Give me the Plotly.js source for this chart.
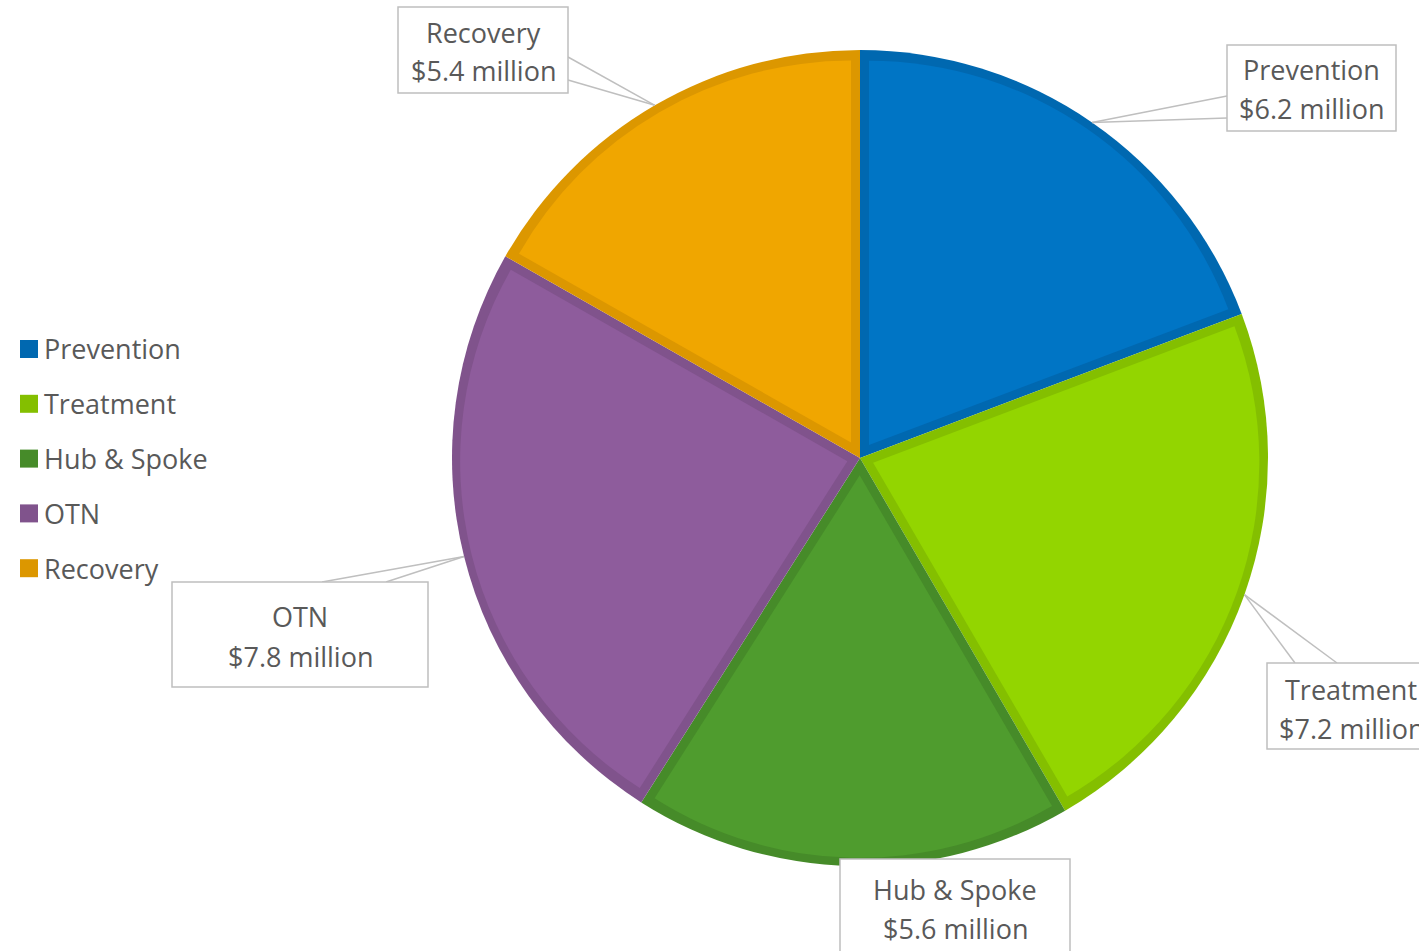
<!DOCTYPE html>
<html>
<head>
<meta charset="utf-8">
<script src="https://cdn.plot.ly/plotly-3.0.1.min.js"></script>
<style>html,body{margin:0;padding:0;background:#fff;}#chart{width:1419px;height:951px;}</style>
</head>
<body>
<div id="chart"></div>
<script>
// ---- data ----
const categories = ['Prevention', 'Treatment', 'Hub & Spoke', 'OTN', 'Recovery'];
const amounts = [6.2, 7.2, 5.6, 7.8, 5.4]; // $ million
const unitSuffix = ' million';

// ---- styles ----
const fillColors = ['#0075C5', '#93D500', '#4F9C2E', '#8E5C9C', '#F0A600'];
const lineColors = ['#0068B0', '#84BF00', '#468B29', '#80538C', '#DC9700'];
const textColor = '#595959';
const fontFamily = '"Open Sans", "Noto Sans", sans-serif';
const fontSize = 27;
const W = 1419, H = 951;
const cx = 860, cy = 458, Rout = 408, bw = 9;

// label box layout (pixels): [left, top, right, bottom], text centre x, line1 y, line2 y, leader attach points
const boxes = [
  {r: [1227, 45, 1396, 131], tx: 1311, y1: 70, y2: 109, a: [[1227, 96], [1227, 118]]},
  {r: [1267, 663, 1436, 749], tx: 1351, y1: 689, y2: 728, a: [[1295, 663], [1337, 663]]},
  {r: [840, 859, 1070, 960], tx: 955, y1: 889, y2: 928, a: []},
  {r: [172, 582, 428, 687], tx: 300, y1: 616, y2: 656, a: [[322, 582], [386, 582]]},
  {r: [398, 7, 568, 93], tx: 483, y1: 32, y2: 71, a: [[568, 57], [568, 80]]}
];
const legendLeft = 20, legendTop = 349, legendStep = 54.8, legendSq = 18;

const px = x => x / W;
const py = y => 1 - y / H;
const domainFor = (x, y, r) => ({x: [px(x - r), px(x + r)], y: [py(y + r), py(y - r)]});

const total = amounts.reduce((s, v) => s + v, 0);
const shapes = [];
const annotations = [];
const traces = [];

// base pie: border colour over the full slice
traces.push({
  type: 'pie', labels: categories, values: amounts, sort: false, direction: 'clockwise', rotation: 0,
  textinfo: 'none', hoverinfo: 'label+value', showlegend: false,
  marker: {colors: lineColors, line: {width: 0}},
  domain: domainFor(cx, cy, Rout)
});

let cum = 0;
amounts.forEach((v, i) => {
  const half = v / total * Math.PI;          // half-angle of slice
  const mid = (cum + v / 2) / total * 2 * Math.PI;
  cum += v;
  // inset fill: same slice, apex moved inward-offset so edges keep a border of bw
  const d = bw / Math.sin(half);
  const r = (Rout - bw) - bw / half;
  const icx = cx + d * Math.sin(mid), icy = cy - d * Math.cos(mid);
  traces.push({
    type: 'pie', labels: categories, values: amounts, sort: false, direction: 'clockwise', rotation: 0,
    textinfo: 'none', hoverinfo: 'skip', showlegend: false,
    marker: {colors: fillColors.map((c, j) => j === i ? c : 'rgba(0,0,0,0)'), line: {width: 0}},
    domain: domainFor(icx, icy, r)
  });

  const ex = cx + Rout * Math.sin(mid), ey = cy - Rout * Math.cos(mid);
  const b = boxes[i];
  b.a.forEach(p => {
    shapes.push({type: 'line', xref: 'paper', yref: 'paper', x0: px(ex), y0: py(ey), x1: px(p[0]), y1: py(p[1]),
      line: {color: '#BFBFBF', width: 1.5}});
  });
  shapes.push({type: 'rect', xref: 'paper', yref: 'paper', x0: px(b.r[0]), y0: py(b.r[1]), x1: px(b.r[2]), y1: py(b.r[3]),
    fillcolor: '#FFFFFF', line: {color: '#BFBFBF', width: 1.5}});
  annotations.push({xref: 'paper', yref: 'paper', x: px(b.tx), y: py(b.y1), xanchor: 'center', yanchor: 'middle',
    text: categories[i], showarrow: false, font: {family: fontFamily, size: fontSize, color: textColor}});
  annotations.push({xref: 'paper', yref: 'paper', x: px(b.tx), y: py(b.y2), xanchor: 'center', yanchor: 'middle',
    text: '$' + v.toFixed(1) + unitSuffix, showarrow: false, font: {family: fontFamily, size: fontSize, color: textColor}});
  // legend
  const ly = legendTop + i * legendStep;
  shapes.push({type: 'rect', xref: 'paper', yref: 'paper', x0: px(legendLeft), y0: py(ly - legendSq / 2), x1: px(legendLeft + legendSq), y1: py(ly + legendSq / 2),
    fillcolor: lineColors[i], line: {width: 0}});
  annotations.push({xref: 'paper', yref: 'paper', x: px(legendLeft + legendSq + 4), y: py(ly), xanchor: 'left', yanchor: 'middle',
    text: categories[i], showarrow: false, font: {family: fontFamily, size: fontSize, color: textColor}});
});

Plotly.newPlot('chart', traces, {
  width: W, height: H,
  margin: {l: 0, r: 0, t: 0, b: 0},
  paper_bgcolor: '#FFFFFF',
  showlegend: false,
  shapes: shapes,
  annotations: annotations
}, {displayModeBar: false, staticPlot: true});
</script>
</body>
</html>
